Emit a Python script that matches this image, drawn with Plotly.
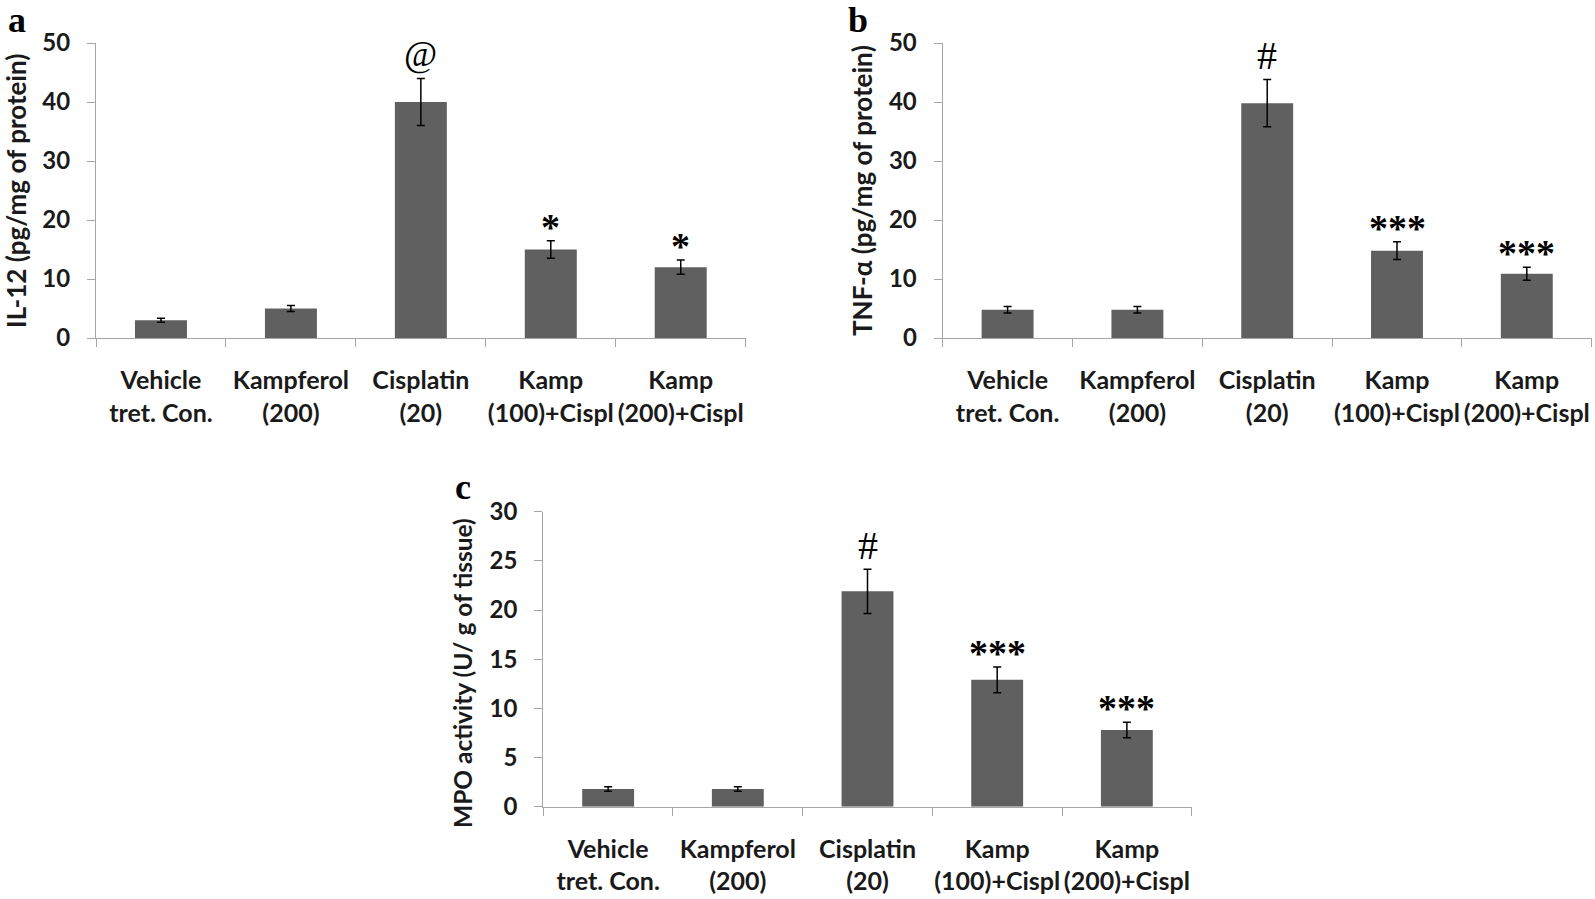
import plotly.graph_objects as go

categories = ["Vehicle<br>tret. Con.", "Kampferol<br>(200)", "Cisplatin<br>(20)",
              "Kamp<br>(100)+Cispl", "Kamp<br>(200)+Cispl"]

il12_mean = [3.0, 5.0, 40.0, 15.0, 12.0]
il12_err = [0.35, 0.5, 4.0, 1.5, 1.2]
il12_marks = ["", "", "@", "*", "*"]

tnf_mean = [4.8, 4.8, 39.8, 14.8, 10.9]
tnf_err = [0.55, 0.55, 4.0, 1.5, 1.1]
tnf_marks = ["", "", "#", "***", "***"]

mpo_mean = [1.8, 1.8, 21.9, 12.9, 7.8]
mpo_err = [0.22, 0.22, 2.25, 1.3, 0.8]
mpo_marks = ["", "", "#", "***", "***"]

W, H = 1595, 899
BAR = "#606060"
AX = "#a6a6a6"
TXT = "#1a1a1a"
SANS = "Lato"
SERIF = "Liberation Serif"

def px_x(a, b):
    return [a / W, b / W]

def px_y(top, bottom):
    return [1 - bottom / H, 1 - top / H]

panels = [
    dict(mean=il12_mean, err=il12_err, marks=il12_marks, xd=px_x(96, 745.7), yd=px_y(43, 338),
         ymax=50, dtick=10, title="IL-12 (pg/mg of protein)", tsize=26, tx=16, ty=191,
         letter="a", lx=17, ly=20),
    dict(mean=tnf_mean, err=tnf_err, marks=tnf_marks, xd=px_x(942.7, 1591.7), yd=px_y(43, 338),
         ymax=50, dtick=10, title="TNF-α (pg/mg of protein)", tsize=26, tx=862, ty=191,
         letter="b", lx=858, ly=20),
    dict(mean=mpo_mean, err=mpo_err, marks=mpo_marks, xd=px_x(543.3, 1191.7), yd=px_y(511.7, 806.7),
         ymax=30, dtick=5, title="MPO activity (U/ g of tissue)", tsize=24.5, tx=462, ty=673,
         letter="c", lx=463, ly=487),
]

fig = go.Figure()
annotations = []
for i, p in enumerate(panels, start=1):
    xa = "x" if i == 1 else f"x{i}"
    ya = "y" if i == 1 else f"y{i}"
    fig.add_trace(go.Bar(
        x=categories, y=p["mean"], width=0.4, marker=dict(color=BAR, line=dict(width=0)),
        error_y=dict(type="data", array=p["err"], color="black", thickness=1.5, width=4),
        xaxis=xa, yaxis=ya, showlegend=False))
    axkey = "xaxis" if i == 1 else f"xaxis{i}"
    aykey = "yaxis" if i == 1 else f"yaxis{i}"
    fig.layout[axkey] = dict(
        domain=p["xd"], anchor=ya, type="category", range=[-0.5, 4.5], automargin=False,
        showline=True, linecolor=AX, linewidth=1.2, showgrid=False, zeroline=False,
        ticks="outside", tickson="boundaries", ticklen=8, tickcolor=AX, tickwidth=1.2,
        tickangle=0,
        tickfont=dict(family=SANS, size=25, color=TXT, weight="bold"),
        ticklabelstandoff=20, fixedrange=True)
    fig.layout[aykey] = dict(
        domain=p["yd"], anchor=xa, range=[0, p["ymax"]], dtick=p["dtick"], tick0=0,
        automargin=False,
        showline=True, linecolor=AX, linewidth=1.2, showgrid=False, zeroline=False,
        ticks="outside", ticklen=8, tickcolor=AX, tickwidth=1.2,
        tickfont=dict(family=SANS, size=24, color=TXT, weight="bold"),
        ticklabelstandoff=12, fixedrange=True)
    # y-axis title
    annotations.append(dict(
        text=p["title"], xref="paper", yref="paper", x=p["tx"] / W, y=1 - p["ty"] / H,
        xanchor="center", yanchor="middle", textangle=-90, showarrow=False,
        font=dict(family=SANS, size=p["tsize"], color=TXT, weight="bold")))
    # panel letter
    annotations.append(dict(
        text=p["letter"], xref="paper", yref="paper", x=p["lx"] / W, y=1 - p["ly"] / H,
        xanchor="center", yanchor="middle", showarrow=False,
        font=dict(family=SERIF, size=36, color="black", weight="bold")))
    # significance marks
    for c, m, e, mk in zip(categories, p["mean"], p["err"], p["marks"]):
        if not mk:
            continue
        is_star = "*" in mk
        is_at = mk == "@"
        annotations.append(dict(
            text=mk, xref=xa, yref=ya, x=c, y=m + e, xanchor="center", yanchor="middle",
            yshift=(14 if is_star else 24), showarrow=False,
            font=dict(family=SERIF, size=(38 if is_star else (36 if is_at else 40)),
                      color="black", weight=("bold" if is_star else "normal"))))

fig.update_layout(
    width=W, height=H, autosize=False, margin=dict(l=0, r=0, t=0, b=0, pad=0),
    paper_bgcolor="white", plot_bgcolor="white", annotations=annotations,
    bargap=0.6)

fig.write_html("out.html", config={"displayModeBar": False},
               post_script="document.body.style.margin='0px';document.body.style.overflow='hidden';")
